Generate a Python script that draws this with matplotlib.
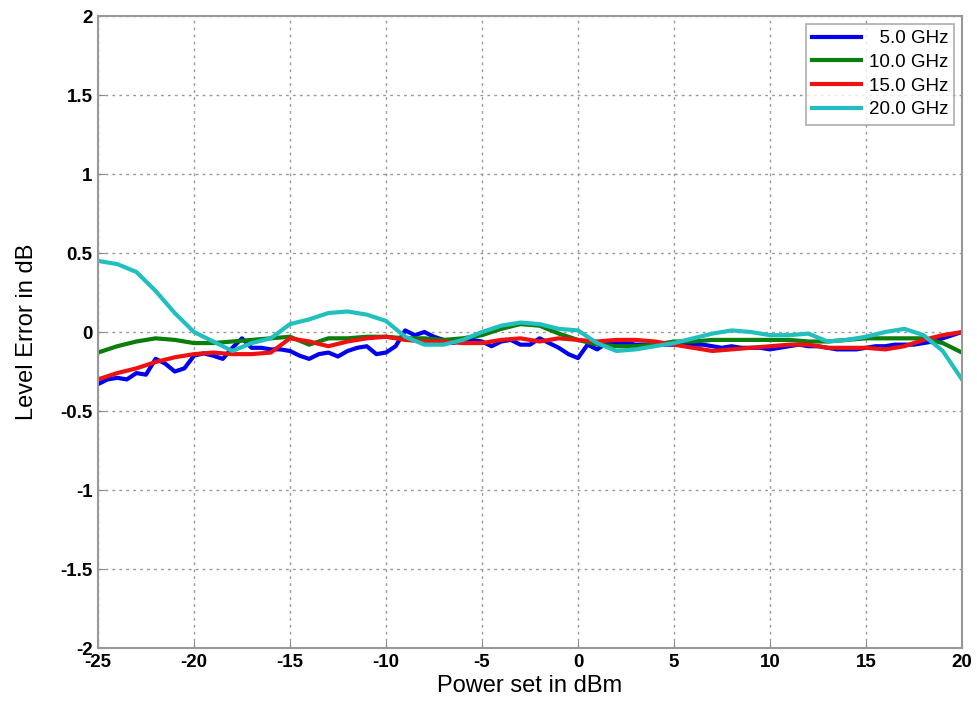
import numpy as np
import matplotlib
matplotlib.use("Agg")
import matplotlib.pyplot as plt

plt.rcParams['font.family'] = ['Liberation Sans', 'DejaVu Sans']

# Data
x_int = np.arange(-25, 21, 1)
x_half = np.arange(-25, 20.01, 0.5)

blue_5 = [-0.33, -0.30, -0.29, -0.30, -0.26, -0.27, -0.17, -0.20, -0.25, -0.23,
          -0.15, -0.135, -0.15, -0.17, -0.10, -0.04, -0.10, -0.10, -0.11, -0.11,
          -0.12, -0.15, -0.17, -0.14, -0.13, -0.155, -0.12, -0.10, -0.09, -0.14,
          -0.13, -0.09, 0.01, -0.02, 0.0, -0.03, -0.05, -0.07, -0.05, -0.05,
          -0.06, -0.09, -0.06, -0.05, -0.08, -0.08, -0.04, -0.07, -0.10, -0.14,
          -0.165, -0.08, -0.11, -0.07, -0.07, -0.07, -0.08, -0.08, -0.08, -0.08,
          -0.08, -0.08, -0.08, -0.08, -0.09, -0.10, -0.09, -0.10, -0.10, -0.10,
          -0.11, -0.10, -0.09, -0.08, -0.09, -0.09, -0.10, -0.11, -0.11, -0.11,
          -0.10, -0.09, -0.09, -0.08, -0.08, -0.08, -0.07, -0.06, -0.04, -0.02,
          0.0]

green_10 = [-0.13, -0.09, -0.06, -0.04, -0.05, -0.07, -0.07, -0.06, -0.05, -0.04,
            -0.03, -0.08, -0.04, -0.04, -0.03, -0.03, -0.04, -0.04, -0.05, -0.04,
            -0.02, 0.02, 0.05, 0.04, -0.01, -0.05, -0.08, -0.09, -0.09, -0.08,
            -0.06, -0.06, -0.05, -0.05, -0.05, -0.05, -0.05, -0.06, -0.06, -0.05,
            -0.04, -0.04, -0.04, -0.04, -0.07, -0.13]

red_15 = [-0.30, -0.26, -0.23, -0.19, -0.16, -0.14, -0.13, -0.14, -0.14, -0.13,
          -0.04, -0.06, -0.09, -0.06, -0.04, -0.03, -0.05, -0.06, -0.06, -0.07,
          -0.07, -0.05, -0.04, -0.06, -0.04, -0.05, -0.06, -0.05, -0.05, -0.06,
          -0.08, -0.10, -0.12, -0.11, -0.10, -0.09, -0.08, -0.08, -0.10, -0.10,
          -0.10, -0.11, -0.09, -0.05, -0.02, 0.0]

cyan_20 = [0.45, 0.43, 0.38, 0.26, 0.12, 0.0, -0.06, -0.12, -0.07, -0.04,
           0.05, 0.08, 0.12, 0.13, 0.11, 0.07, -0.03, -0.08, -0.08, -0.05,
           0.0, 0.04, 0.06, 0.05, 0.02, 0.01, -0.07, -0.12, -0.11, -0.09,
           -0.07, -0.04, -0.01, 0.01, 0.0, -0.02, -0.02, -0.01, -0.06, -0.05,
           -0.03, 0.0, 0.02, -0.02, -0.12, -0.30]

labels = ['  5.0 GHz', '10.0 GHz', '15.0 GHz', '20.0 GHz']
colors = ['#0000ee', '#0a7d0a', '#ee1111', '#22bfbf']

xticks = np.arange(-25, 21, 5)
yticks = np.arange(-2, 2.01, 0.5)
ytick_labels = ['-2', '-1.5', '-1', '-0.5', '0', '0.5', '1', '1.5', '2']

fig = plt.figure(figsize=(9.77, 7.02), dpi=100)
ax = fig.add_axes([0.1003, 0.0769, 0.8843, 0.9003])

ax.plot(x_half, blue_5, color=colors[0], lw=3, label=labels[0])
ax.plot(x_int, green_10, color=colors[1], lw=3, label=labels[1])
ax.plot(x_int, red_15, color=colors[2], lw=3, label=labels[2])
ax.plot(x_int, cyan_20, color=colors[3], lw=3, label=labels[3])

ax.set_xlim(-25, 20)
ax.set_ylim(-2, 2)
ax.set_xticks(xticks)
ax.set_yticks(yticks)
ax.set_xticklabels([str(int(t)) for t in xticks], fontsize=13.5, fontweight='bold')
ax.set_yticklabels(ytick_labels, fontsize=13.5, fontweight='bold')
ax.tick_params(direction='in', length=5, color='#888888', pad=4)
ax.grid(True, linestyle=(0, (2, 3)), color='#999999', lw=1)
for s in ax.spines.values():
    s.set_color('#999999')
    s.set_linewidth(1.5)

ax.set_xlabel('Power set in dBm', fontsize=17, labelpad=3)
ax.set_ylabel('Level Error in dB', fontsize=17, labelpad=16)

leg = ax.legend(loc='upper right', fontsize=13.5, frameon=True, fancybox=False,
                edgecolor='#999999', handlelength=2.6, handletextpad=0.4,
                borderpad=0.35, labelspacing=0.35, borderaxespad=0.4)
leg.get_frame().set_linewidth(1.2)

fig.savefig('out.png', dpi=100)
